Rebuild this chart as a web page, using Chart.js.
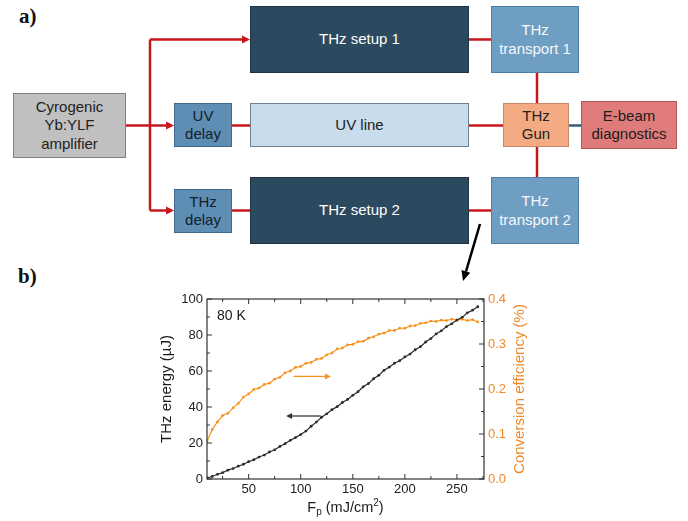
<!DOCTYPE html>
<html>
<head>
<meta charset="utf-8">
<script src="https://cdn.jsdelivr.net/npm/chart.js@4.4.1/dist/chart.umd.min.js"></script>
<style>
  html, body { margin:0; padding:0; background:#fff; }
  #page { position:relative; width:688px; height:521px; overflow:hidden; background:#fff;
          font-family:'Liberation Sans', Arial, sans-serif; }
  .box { position:absolute; box-sizing:border-box; display:flex; align-items:center; justify-content:center;
         text-align:center; font-size:15px; line-height:18.5px; border:1px solid; }
  .lbl { position:absolute; font-family:'Liberation Serif','Times New Roman',serif; font-weight:bold; font-size:21px; color:#111; }
  svg { position:absolute; left:0; top:0; }
  #chartWrap { position:absolute; left:150px; top:285px; width:390px; height:236px; }
</style>
</head>
<body>
<div id="page">
  <div class="lbl" style="left:19px;top:4px;">a)</div>
  <div class="lbl" style="left:18px;top:264px;">b)</div>

  <svg width="688" height="521" viewBox="0 0 688 521">
    <g stroke="#c8161d" stroke-width="2.5" fill="none">
      <path d="M126,125.5 H167"/>
      <path d="M150,39.5 V210.5"/>
      <path d="M150,39.5 H243"/>
      <path d="M150,210.5 H167"/>
      <path d="M232,125.5 H250"/>
      <path d="M232,210.5 H250"/>
      <path d="M469,39.5 H491"/>
      <path d="M469,125.5 H503"/>
      <path d="M469,210.5 H491"/>
      <path d="M537,73 V103"/>
      <path d="M537,147 V177"/>
    </g>
    <g fill="#c8161d">
      <polygon points="174,125.5 166,121.5 166,129.5"/>
      <polygon points="250,39.5 242,35.5 242,43.5"/>
      <polygon points="174,210.5 166,206.5 166,214.5"/>
    </g>
    <path d="M569,125.5 H581" stroke="#2f5d82" stroke-width="2.5"/>
    <path d="M480,224 L466,271.5" stroke="#000" stroke-width="2.5"/>
    <polygon points="463,281 470.2,272.7 461.5,270.1" fill="#000"/>
  </svg>

  <div class="box" style="left:13px;top:93px;width:113px;height:65px;background:#c0c0c0;border-color:#808080;color:#222;">Cyrogenic<br>Yb:YLF<br>amplifier</div>
  <div class="box" style="left:174px;top:103px;width:58px;height:44px;background:#5e8eb4;border-color:#3f6a8e;color:#14202c;">UV<br>delay</div>
  <div class="box" style="left:174px;top:189px;width:58px;height:44px;background:#5e8eb4;border-color:#3f6a8e;color:#14202c;">THz<br>delay</div>
  <div class="box" style="left:250px;top:6px;width:219px;height:67px;background:#2c4a5f;border-color:#1f3545;color:#fff;">THz setup 1</div>
  <div class="box" style="left:250px;top:103px;width:219px;height:44px;background:#c9dcec;border-color:#6f7f8d;color:#222;">UV line</div>
  <div class="box" style="left:250px;top:177px;width:219px;height:67px;background:#2c4a5f;border-color:#1f3545;color:#fff;">THz setup 2</div>
  <div class="box" style="left:491px;top:6px;width:88px;height:67px;background:#6f9ec3;border-color:#4d7ea6;color:#f4f8fb;">THz<br>transport 1</div>
  <div class="box" style="left:503px;top:103px;width:66px;height:44px;background:#f4ab84;border-color:#c88a6a;color:#222;">THz<br>Gun</div>
  <div class="box" style="left:581px;top:101px;width:96px;height:48px;background:#e07b7b;border-color:#b45a5a;color:#1c1c1c;">E-beam<br>diagnostics</div>
  <div class="box" style="left:491px;top:177px;width:88px;height:67px;background:#6f9ec3;border-color:#4d7ea6;color:#f4f8fb;">THz<br>transport 2</div>

  <div id="chartWrap"><canvas id="c" width="390" height="236"></canvas></div>
</div>

<script>
// ---- data ----
const fluence = [10,15,20,25,30,35,40,45,50,55,60,65,70,75,80,85,90,95,100,105,110,115,120,125,130,135,140,145,150,155,160,165,170,175,180,185,190,195,200,205,210,215,220,225,230,235,240,245,250,255,260,265,270];
const thzEnergy = [0.6,1.4,2.6,3.5,4.9,5.8,7.1,8.2,9.6,10.7,12.2,13.3,15.0,16.2,18.1,19.6,21.5,23.0,24.7,26.6,29.3,31.6,34.3,36.2,38.5,40.2,42.5,44.2,46.5,48.5,51.2,53.0,55.7,57.6,60.4,62.1,64.3,65.7,67.8,69.4,71.8,73.5,76.1,78.0,80.6,82.3,84.7,86.2,88.3,89.8,92.3,93.8,95.7];
const convEff = [0.084,0.110,0.127,0.141,0.146,0.158,0.168,0.182,0.189,0.199,0.202,0.210,0.213,0.222,0.226,0.236,0.240,0.248,0.250,0.257,0.259,0.266,0.268,0.276,0.280,0.289,0.291,0.298,0.299,0.305,0.306,0.313,0.316,0.322,0.324,0.330,0.330,0.335,0.335,0.340,0.341,0.346,0.347,0.351,0.350,0.353,0.352,0.355,0.353,0.355,0.352,0.354,0.349];

const xTicks = [50,100,150,200,250];
const xMinorTicks = [25,75,125,175,225,275];
const yTicks = [0,20,40,60,80,100];
const yMinorTicks = [10,30,50,70,90];
const y2Ticks = [0,0.1,0.2,0.3,0.4];
const y2MinorTicks = [0.05,0.15,0.25,0.35];

// annotation arrows (x, left-axis value)
const orangeArrow = [[93,57],[129,57]];
const blackArrow = [[119,35],[86,35]];
const tempLabel = '80 K';

const ORANGE = '#f7931e';
const ORANGE_TXT = '#f0892a';
const BLACK = '#2b2b2b';
const FONT = "'Liberation Sans', Arial, sans-serif";

Chart.defaults.font.family = FONT;

const xy = (xs, ys) => xs.map((v,i)=>({x:v, y:ys[i]}));

function arrow(ctx, x1, y1, x2, y2, color){
  const dx = x2-x1, dy = y2-y1, L = Math.hypot(dx,dy), ux = dx/L, uy = dy/L;
  const hl = 6, hw = 3;
  ctx.strokeStyle = color; ctx.fillStyle = color; ctx.lineWidth = 1.3;
  ctx.beginPath(); ctx.moveTo(x1,y1); ctx.lineTo(x2-ux*hl, y2-uy*hl); ctx.stroke();
  ctx.beginPath(); ctx.moveTo(x2,y2);
  ctx.lineTo(x2-ux*hl - uy*hw, y2-uy*hl + ux*hw);
  ctx.lineTo(x2-ux*hl + uy*hw, y2-uy*hl - ux*hw);
  ctx.closePath(); ctx.fill();
}

const framePlugin = {
  id: 'frame',
  afterDatasetsDraw(chart){
    const {ctx, chartArea:a, scales:{x, y, y2}} = chart;
    ctx.save();
    arrow(ctx, x.getPixelForValue(orangeArrow[0][0]), y.getPixelForValue(orangeArrow[0][1]),
               x.getPixelForValue(orangeArrow[1][0]), y.getPixelForValue(orangeArrow[1][1]), ORANGE);
    arrow(ctx, x.getPixelForValue(blackArrow[0][0]), y.getPixelForValue(blackArrow[0][1]),
               x.getPixelForValue(blackArrow[1][0]), y.getPixelForValue(blackArrow[1][1]), '#333');
    ctx.strokeStyle = '#333'; ctx.lineWidth = 1.2;
    ctx.strokeRect(a.left, a.top, a.right-a.left, a.bottom-a.top);
    const seg = (x1,y1,x2,y2)=>{ctx.beginPath();ctx.moveTo(x1,y1);ctx.lineTo(x2,y2);ctx.stroke();};
    ctx.lineWidth = 1;
    xTicks.forEach(v=>{const p=x.getPixelForValue(v); seg(p,a.bottom,p,a.bottom-5); seg(p,a.top,p,a.top+5);});
    xMinorTicks.forEach(v=>{if(v>x.max) return; const p=x.getPixelForValue(v); seg(p,a.bottom,p,a.bottom-3); seg(p,a.top,p,a.top+3);});
    yTicks.forEach(v=>{const p=y.getPixelForValue(v); seg(a.left,p,a.left+5,p);});
    yMinorTicks.forEach(v=>{const p=y.getPixelForValue(v); seg(a.left,p,a.left+3,p);});
    y2Ticks.forEach(v=>{const p=y2.getPixelForValue(v); seg(a.right,p,a.right-5,p);});
    y2MinorTicks.forEach(v=>{const p=y2.getPixelForValue(v); seg(a.right,p,a.right-3,p);});
    ctx.fillStyle = '#1a1a1a'; ctx.font = '14px ' + FONT; ctx.textBaseline = 'middle'; ctx.textAlign = 'left';
    ctx.fillText(tempLabel, a.left + 10, a.top + 17);
    const big = '14.5px ' + FONT, small = '10px ' + FONT;
    const parts = [['F',big,0],['p',small,4],[' (mJ/cm',big,0],['2',small,-5],[')',big,0]];
    let w = 0; parts.forEach(p=>{ctx.font=p[1]; w += ctx.measureText(p[0]).width;});
    let cx = (a.left + a.right)/2 - w/2; const ty = chart.height - 13;
    ctx.fillStyle = '#1a1a1a';
    parts.forEach(p=>{ctx.font=p[1]; ctx.fillText(p[0], cx, ty + p[2]); cx += ctx.measureText(p[0]).width;});
    ctx.translate(chart.width - 20, (a.top + a.bottom)/2);
    ctx.rotate(-Math.PI/2);
    ctx.textAlign = 'center'; ctx.fillStyle = ORANGE_TXT; ctx.font = '15px ' + FONT;
    ctx.fillText('Conversion efficiency (%)', 0, 0);
    ctx.restore();
  }
};

new Chart(document.getElementById('c'), {
  type: 'scatter',
  data: {
    datasets: [
      { label: 'THz energy', data: xy(fluence, thzEnergy), yAxisID: 'y',
        showLine: true, borderColor: BLACK, borderWidth: 1.2, backgroundColor: BLACK,
        pointRadius: 1.4, pointBorderWidth: 0 },
      { label: 'Conversion efficiency', data: xy(fluence, convEff), yAxisID: 'y2',
        showLine: true, borderColor: ORANGE, borderWidth: 1.2, backgroundColor: ORANGE,
        pointRadius: 1.4, pointBorderWidth: 0 }
    ]
  },
  options: {
    responsive: false, animation: false, devicePixelRatio: 1,
    layout: { padding: { top: 14, left: 0, right: 0, bottom: 0 } },
    plugins: { legend: { display: false }, tooltip: { enabled: false } },
    scales: {
      x: {
        type: 'linear', position: 'bottom', min: 10, max: 276,
        afterBuildTicks: s => { s.ticks = xTicks.map(v=>({value:v})); },
        afterFit: s => { s.height = 42; },
        grid: { display: false, drawTicks: false },
        border: { display: false },
        ticks: { color: '#222', font: { size: 13 }, padding: 3 }
      },
      y: {
        type: 'linear', position: 'left', min: 0, max: 100,
        afterBuildTicks: s => { s.ticks = yTicks.map(v=>({value:v})); },
        afterFit: s => { s.width = 57; },
        grid: { display: false, drawTicks: false },
        border: { display: false },
        ticks: { color: '#222', font: { size: 13 }, padding: 4 },
        title: { display: true, text: 'THz energy (µJ)', color: '#1a1a1a', font: { size: 15 }, padding: { top: 8, bottom: 0 } }
      },
      y2: {
        type: 'linear', position: 'right', min: 0, max: 0.4,
        afterBuildTicks: s => { s.ticks = y2Ticks.map(v=>({value:v})); },
        afterFit: s => { s.width = 56; },
        grid: { display: false, drawTicks: false },
        border: { display: false },
        ticks: { color: ORANGE_TXT, font: { size: 13 }, padding: 4, callback: v => Number(v).toFixed(1) }
      }
    }
  },
  plugins: [framePlugin]
});
</script>
</body>
</html>
